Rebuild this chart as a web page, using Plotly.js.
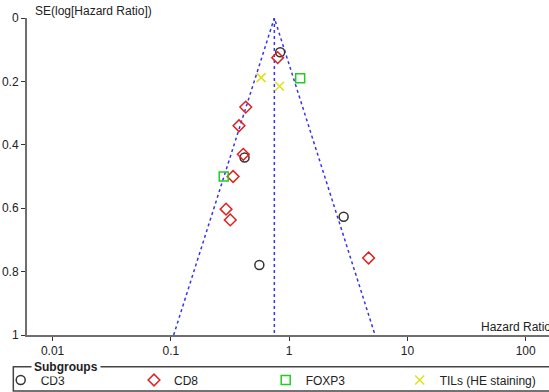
<!DOCTYPE html>
<html>
<head>
<meta charset="utf-8">
<script src="https://cdn.plot.ly/plotly-3.0.1.min.js"></script>
<style>html,body{margin:0;padding:0;background:#fff;}</style>
</head>
<body>
<div id="chart" style="width:549px;height:392px;"></div>
<script>
// Data
const cd3HR = [0.84, 0.42, 2.89, 0.56];
const cd3SE = [0.108, 0.44, 0.627, 0.779];
const cd8HR = [0.80, 0.43, 0.377, 0.41, 0.336, 0.293, 0.318, 4.70];
const cd8SE = [0.125, 0.281, 0.34, 0.43, 0.50, 0.603, 0.637, 0.757];
const foxp3HR = [1.24, 0.28];
const foxp3SE = [0.19, 0.50];
const tilsHR = [0.58, 0.83];
const tilsSE = [0.188, 0.215];
const pooledHR = 0.75;
const seMax = 1;
const z = 1.96;
const yTicks = [0, 0.2, 0.4, 0.6, 0.8, 1];
const yTickText = ['0', '0.2', '0.4', '0.6', '0.8', '1'];
const xTicks = [0.01, 0.1, 1, 10, 100];
const xTickText = ['0.01', '0.1', '1', '10', '100'];

const FONT = 'Liberation Sans, Arial, sans-serif';
const lineStyle = {color: '#3535ee', width: 1.5, dash: '3px,3px'};
const lo = pooledHR * Math.exp(-z * seMax);
const hi = pooledHR * Math.exp(z * seMax);

const traces = [
  {x: [lo, pooledHR, hi], y: [seMax, 0, seMax], mode: 'lines', line: lineStyle, showlegend: false, hoverinfo: 'skip'},
  {x: [pooledHR, pooledHR], y: [0, seMax], mode: 'lines', line: lineStyle, showlegend: false, hoverinfo: 'skip'},
  {x: cd3HR, y: cd3SE, mode: 'markers', name: 'CD3', legend: 'legend',
   marker: {symbol: 'circle-open', size: 9, color: '#333333', line: {width: 1.5}}},
  {x: cd8HR, y: cd8SE, mode: 'markers', name: 'CD8', legend: 'legend2',
   marker: {symbol: 'diamond-open', size: 9, color: '#dd2222', line: {width: 1.5}}},
  {x: foxp3HR, y: foxp3SE, mode: 'markers', name: 'FOXP3', legend: 'legend3',
   marker: {symbol: 'square-open', size: 9, color: '#22cc22', line: {width: 1.5}}},
  {x: tilsHR, y: tilsSE, mode: 'markers', name: 'TILs (HE staining)', legend: 'legend4',
   marker: {symbol: 'x-thin-open', size: 9, color: '#e0e01a', line: {width: 1.5}}}
];

function leg(xPx) {
  return {
    orientation: 'h', xref: 'container', yref: 'container',
    x: xPx / 549, xanchor: 'left', y: 12 / 392, yanchor: 'middle',
    font: {family: FONT, size: 12, color: '#222'},
    bgcolor: 'rgba(0,0,0,0)', borderwidth: 0
  };
}

const layout = {
  width: 549, height: 392,
  margin: {l: 27, r: 0, t: 18, b: 57},
  paper_bgcolor: '#fff', plot_bgcolor: '#fff',
  font: {family: FONT, size: 12, color: '#222'},
  xaxis: {
    type: 'log', range: [-2.216, 2.197],
    tickvals: xTicks, ticktext: xTickText,
    showgrid: false, zeroline: false,
    showline: true, linecolor: '#6e6e6e', linewidth: 2,
    ticks: 'outside', ticklen: 4, tickwidth: 1, tickcolor: '#333',
    tickfont: {family: FONT, size: 12, color: '#222'}
  },
  yaxis: {
    range: [1, 0],
    tickvals: yTicks, ticktext: yTickText,
    showgrid: false, zeroline: false,
    showline: true, linecolor: '#6e6e6e', linewidth: 2,
    ticks: 'outside', ticklen: 4, tickwidth: 1, tickcolor: '#333',
    tickfont: {family: FONT, size: 12, color: '#222'}
  },
  showlegend: true,
  legend: leg(0.7),
  legend2: leg(134),
  legend3: leg(265.7),
  legend4: leg(399.7),
  shapes: [
    {type: 'rect', xref: 'paper', yref: 'paper', x0: -0.0262, x1: 1.05, y0: -0.1767, y1: -0.1,
     line: {color: '#444', width: 1.5}, fillcolor: 'rgba(0,0,0,0)'}
  ],
  annotations: [
    {text: 'SE(log[Hazard Ratio])', xref: 'paper', yref: 'paper', x: 0.0115, y: 1.022,
     xanchor: 'left', yanchor: 'middle', showarrow: false, font: {family: FONT, size: 12, color: '#222'}},
    {text: 'Hazard Ratio', xref: 'paper', yref: 'paper', x: 0.8665, y: 0.026,
     xanchor: 'left', yanchor: 'middle', showarrow: false, font: {family: FONT, size: 12, color: '#222'}},
    {text: '<b>Subgroups</b>', xref: 'paper', yref: 'paper', x: 0.0077, y: -0.1,
     xanchor: 'left', yanchor: 'middle', showarrow: false, bgcolor: '#fff', borderpad: 2,
     font: {family: FONT, size: 12, color: '#222'}}
  ]
};

Plotly.newPlot('chart', traces, layout, {displayModeBar: false, staticPlot: true});
</script>
</body>
</html>
